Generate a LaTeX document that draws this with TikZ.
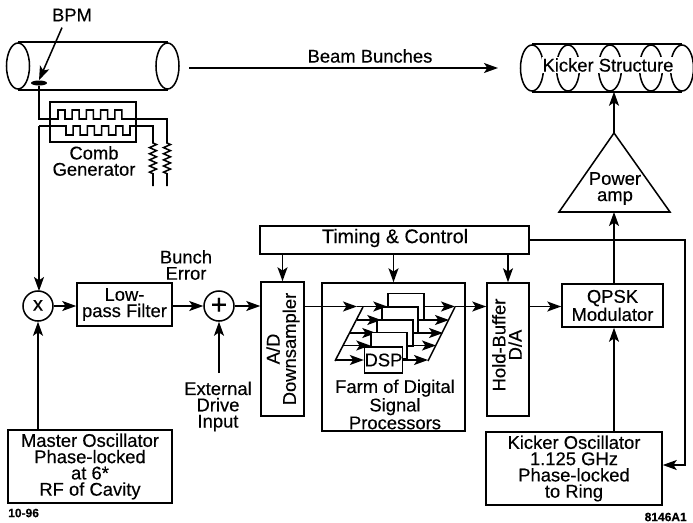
\documentclass[tikz,border=0pt]{standalone}
\usepackage{fontspec}
\setmainfont[FakeBold=0.35]{Liberation Sans}
\usepackage{tikz}
\usetikzlibrary{shapes.geometric, arrows.meta, decorations.pathmorphing, calc}
\newcommand{\pxu}{0.75pt}
\begin{document}
\begin{tikzpicture}[
    x=0.75pt, y=-0.75pt,
    wire/.style={line width=1.15pt, line join=miter},
    arr/.style={wire, -{Stealth[length=10.5pt, width=7.5pt, inset=2.5pt]}},
    box/.style={rectangle, draw, line width=1.15pt, inner sep=0pt, align=center,
        font=\fontsize{13.8}{12.2}\selectfont},
    dspbox/.style={box, fill=white, minimum width=36*\pxu, minimum height=26*\pxu},
    sumnode/.style={circle, draw, line width=1.15pt, inner sep=0pt, minimum size=30*\pxu,
        font=\fontsize{21}{21}\selectfont},
    lbl/.style={inner sep=0pt, align=center, font=\fontsize{13.8}{12.2}\selectfont},
    tiny/.style={inner sep=0pt, font=\fontsize{9}{9}\selectfont\bfseries},
    pipeend/.style={ellipse, draw, line width=1.15pt, inner sep=0pt,
        minimum width=23*\pxu, minimum height=46*\pxu},
    res/.style={decorate, decoration={zigzag, segment length=4.6pt, amplitude=2.6pt}}
]
\useasboundingbox (0,0) rectangle (693,522);

\node[lbl] (bpmlabel) at (72,15) {BPM};
\node[pipeend] (pipein) at (18,66) {};
\node[pipeend] (pipeout) at (167.5,66) {};
\draw[wire] (pipein.north) -- (pipeout.north);
\draw[wire] (pipein.south) -- (pipeout.south);
\node[ellipse, fill=black, inner sep=0pt, minimum width=16*\pxu, minimum height=5*\pxu] (bpm) at (39,83) {};
\draw[arr] (bpmlabel.south) ++(-10,6) -- (bpm.north);

\node[box, minimum width=86*\pxu, minimum height=40*\pxu] (comb) at (93,122) {};
\node[lbl] (combtext) at (94,161) {Comb\\Generator};
\coordinate (combtop) at (58,119);
\coordinate (combbot) at (59,126);
\coordinate (xin) at (39,126);
\draw[wire] (bpm.south) -- (39,119) -- (combtop)
    \foreach \i in {1,...,5} {-- ++(0,-9) -- ++(7,0) -- ++(0,9) -- ++(7.2,0)}
    -- (167,119) -- (167,143) decorate[res] {-- (167,176)} -- (167,186);
\draw[wire] (xin) -- (combbot)
    \foreach \i in {1,...,5} {-- ++(7,0) -- ++(0,9) -- ++(7.2,0) -- ++(0,-9)}
    -- (153,126) -- (153,143) decorate[res] {-- (153,176)} -- (153,186);

\node[pipeend] (kickin) at (532,68) {};
\node[pipeend] (kickout) at (682,68) {};
\draw[wire] (kickin.north) -- (kickout.north);
\draw[wire] (kickin.south) -- (kickout.south);
\node[pipeend] (kicka) at (568,68) {};
\node[pipeend] (kickb) at (610,68) {};
\node[pipeend] (kickc) at (651,68) {};
\node[lbl, fill=white, inner ysep=1pt, inner xsep=0.5pt] (kicker) at (608,65) {Kicker Structure};

\coordinate (beamstart) at (189,68);
\coordinate (beamend) at (498,68);
\node[lbl] (beamlabel) at (370,56) {Beam Bunches};
\draw[arr] (beamstart) -- (beamend);

\coordinate (ampapex) at (614,133);
\coordinate (ampbase) at (614,212);
\draw[wire] (ampapex) -- (670,212) -- (559,212) -- cycle;
\node[lbl] (amp) at (615,188.5) {Power\\amp};
\draw[arr] (ampapex) -- (ampapex |- kickb.south);

\node[box, minimum width=269*\pxu, minimum height=28*\pxu] (timing) at (394.5,240) {};
\node[lbl, font=\fontsize{14.8}{14}\selectfont] (timingtext) at (395,238) {Timing \& Control};

\node[sumnode] (mix) at (38,306) {\raisebox{1pt}{\fontsize{15}{15}\selectfont x}};
\node[box, minimum width=95*\pxu, minimum height=43*\pxu] (lowpass) at (124.5,304.5) {Low-\\pass Filter};
\node[sumnode] (plus) at (219,306) {+};
\node[lbl] (bunch) at (186,265) {Bunch\\Error};
\node[lbl] (extdrive) at (218,406.5) {External\\Drive\\Input};
\coordinate (extstart) at (219,373);

\node[box, minimum width=43*\pxu, minimum height=134*\pxu] (adc) at (282.5,349) {};
\node[lbl, rotate=90] (adctext) at (283,349) {A/D\\Downsampler};
\node[box, minimum width=143*\pxu, minimum height=148*\pxu] (farm) at (393.5,357) {};
\node[lbl] (farmtext) at (395,404.5) {Farm of Digital\\Signal\\Processors};
\node[box, minimum width=42*\pxu, minimum height=133*\pxu] (hold) at (508,349.5) {};
\node[lbl, rotate=90] (holdtext) at (507,345) {Hold-Buffer\\D/A};
\node[box, minimum width=101*\pxu, minimum height=43*\pxu] (qpsk) at (612.5,305.5) {QPSK\\Modulator};

\node[box, minimum width=164*\pxu, minimum height=73*\pxu] (master) at (90,466.5) {Master Oscillator\\Phase-locked\\at 6*\\RF of Cavity};
\node[box, minimum width=176*\pxu, minimum height=73*\pxu] (kickosc) at (574,468.5) {Kicker Oscillator\\1.125 GHz\\Phase-locked\\to Ring};

\node[tiny, anchor=west] (datelabel) at (8,513) {10-96};
\node[tiny, anchor=east] (figlabel) at (687,517) {8146A1};

\draw[wire] (363,307) -- (335,361);
\draw[wire] (455,307) -- (428,361);
\node[dspbox] (dspa) at (406,306.5) {};
\coordinate (farmin) at (357,306.5);
\coordinate (farmout) at (455,306.5);
\foreach \n/\l/\r/\xc/\yc/\t in {dspb/357/449/400/320/{}, dspc/350/443/395/333/{}, dspd/343/436/389/345.5/{}, dspe/335/428/383.5/360/DSP} {
    \node[dspbox] (\n) at (\xc,\yc) {\t};
    \draw[arr] (\l,\yc) -- (\n.west);
    \draw[arr] (\n.east) -- (\r,\yc);
}

\draw[arr] (adc.east |- dspa) -- (farmin);
\draw[arr] (farmin) -- (dspa.west);
\draw[arr] (dspa.east) -- (farmout);
\draw[arr] (farmout) -- (hold.west |- dspa);

\draw[arr] (xin) -- (39,291);
\draw[arr] (master.north -| mix) -- (mix.south);
\draw[arr] (mix.east) -- (lowpass.west |- mix);
\draw[arr] (lowpass.east |- plus) -- (plus.west);
\draw[arr] (plus.east) -- (adc.west |- plus);
\draw[arr] (extstart) -- (plus.south);
\draw[arr] (hold.east |- dspa) -- (qpsk.west |- dspa);
\draw[arr] (kickosc.north -| ampbase) -- (qpsk.south -| ampbase);
\draw[arr] (qpsk.north -| ampbase) -- (ampbase);

\draw[arr] (timing.south -| adc) -- (adc.north);
\draw[arr] (timing.south -| farm) -- (farm.north);
\draw[arr] (timing.south -| hold) -- (hold.north);
\draw[arr] (timing.east) -- (685,240) -- (685,465) -- (kickosc.east |- 0,465);
\end{tikzpicture}
\end{document}
